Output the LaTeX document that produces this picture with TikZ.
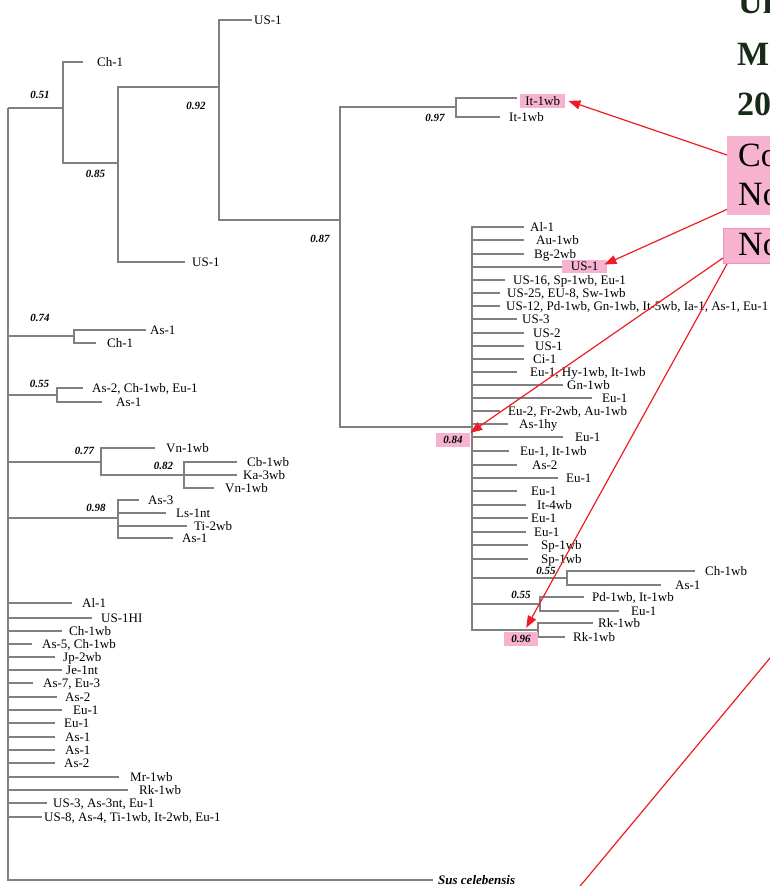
\documentclass[tikz,border=0pt]{standalone}
\usepackage{xcolor}
\usepackage{tikz}
\usetikzlibrary{arrows.meta}
\usepackage{fontspec}
\setmainfont{Liberation Serif}

\definecolor{gris}{RGB}{128,128,128}
\definecolor{rosa}{RGB}{246,178,206}
\definecolor{rosaborde}{RGB}{236,148,188}
\definecolor{rojo}{RGB}{240,28,36}
\definecolor{verdeosc}{RGB}{24,42,24}

\begin{document}
\begin{tikzpicture}[x=1pt,y=-1pt,
  rama/.style={draw=gris, line width=1.8pt},
  hoja/.style={anchor=base west, inner sep=0pt, yshift=-4.5pt, font=\fontsize{13}{13}\selectfont},
  apoyo/.style={inner sep=0pt, font=\fontsize{11}{11}\selectfont\bfseries\itshape},
  marca/.style={fill=rosa, inner sep=0pt, font=\fontsize{13}{13}\selectfont},
  caja/.style={fill=rosa, inner sep=0pt, anchor=north west},
  grande/.style={anchor=base west, inner sep=0pt, font=\fontsize{34}{34}\selectfont},
  titulo/.style={grande, text=verdeosc, font=\fontsize{34}{34}\selectfont\bfseries},
  flecha/.style={draw=rojo, line width=1.2pt, -{Triangle[length=12pt,width=9pt]}}]

% Marco de la figura
\useasboundingbox (0,0) rectangle (770,886);
\clip (0,0) rectangle (770,886);

% Nodos internos del arbol
\coordinate (raiz) at (8,108);
\coordinate (n51) at (63,108);
\coordinate (n85) at (118,163);
\coordinate (n92) at (219,87);
\coordinate (n87) at (340,220);
\coordinate (n97) at (456,107);
\coordinate (n84) at (472,427);
\coordinate (n55a) at (567,578);
\coordinate (n55b) at (540,604);
\coordinate (n96) at (538,630);
\coordinate (n74) at (74,336);
\coordinate (n55) at (57,395);
\coordinate (n77) at (101,462);
\coordinate (n82) at (184,475);
\coordinate (n98) at (118,518);
\coordinate (esus) at (433,880);

% Ramas entre nodos internos
\foreach \a/\b in {raiz/n51, n51/n85, n85/n92, n92/n87, n87/n97, n87/n84,
  n84/n55a, n84/n55b, n84/n96, raiz/n74, raiz/n55, raiz/n77, n77/n82,
  raiz/n98, raiz/esus}
  \draw[rama] (\a) |- (\b);

% Hojas: padre / y / fin de rama / x del texto / texto
\foreach \p/\y/\e/\l/\t [count=\i] in {
  n51/62/83/97/Ch-1, n92/20/252/254/US-1, n85/262/185/192/US-1,
  n97/117/500/509/It-1wb,
  n84/227/524/530/Al-1, n84/240/524/536/Au-1wb, n84/254/524/534/Bg-2wb,
  n84/280/505/513/{US-16, Sp-1wb, Eu-1},
  n84/293/500/507/{US-25, EU-8, Sw-1wb},
  n84/306/500/506/{US-12, Pd-1wb, Gn-1wb, It-5wb, Ia-1, As-1, Eu-1},
  n84/319/517/522/US-3, n84/333/524/533/US-2, n84/346/524/535/US-1,
  n84/359/524/533/Ci-1, n84/372/517/530/{Eu-1, Hy-1wb, It-1wb},
  n84/385/563/567/Gn-1wb, n84/398/592/602/Eu-1,
  n84/411/500/508/{Eu-2, Fr-2wb, Au-1wb}, n84/424/508/519/As-1hy,
  n84/437/563/575/Eu-1, n84/451/509/520/{Eu-1, It-1wb},
  n84/465/517/532/As-2, n84/478/558/566/Eu-1, n84/491/517/531/Eu-1,
  n84/505/526/537/It-4wb, n84/518/528/531/Eu-1, n84/532/526/534/Eu-1,
  n84/545/528/541/Sp-1wb, n84/559/528/541/Sp-1wb,
  n55a/571/695/705/Ch-1wb, n55a/585/661/675/As-1,
  n55b/597/584/592/{Pd-1wb, It-1wb}, n55b/611/619/631/Eu-1,
  n96/623/593/598/Rk-1wb, n96/637/565/573/Rk-1wb,
  n74/330/146/150/As-1, n74/343/96/107/Ch-1,
  n55/388/83/92/{As-2, Ch-1wb, Eu-1}, n55/402/102/116/As-1,
  n77/448/155/166/Vn-1wb,
  n82/462/237/247/Cb-1wb, n82/475/237/243/Ka-3wb, n82/488/214/225/Vn-1wb,
  n98/500/139/148/As-3, n98/513/166/176/Ls-1nt, n98/526/187/194/Ti-2wb,
  n98/538/173/182/As-1,
  raiz/603/72/82/Al-1, raiz/618/92/101/US-1HI, raiz/631/62/69/Ch-1wb,
  raiz/644/32/42/{As-5, Ch-1wb}, raiz/657/55/63/Jp-2wb, raiz/670/62/66/Je-1nt,
  raiz/683/33/43/{As-7, Eu-3}, raiz/697/57/65/As-2, raiz/710/62/73/Eu-1,
  raiz/723/55/64/Eu-1, raiz/737/55/65/As-1, raiz/750/55/65/As-1,
  raiz/763/55/64/As-2, raiz/777/119/130/Mr-1wb, raiz/790/128/139/Rk-1wb,
  raiz/803/47/53/{US-3, As-3nt, Eu-1},
  raiz/817/42/44/{US-8, As-4, Ti-1wb, It-2wb, Eu-1}}
{
  \coordinate (e\i) at (\e,\y);
  \draw[rama] (\p) |- (e\i);
  \node[hoja] (t\i) at (\l,\y) {\t};
}

% Hojas marcadas
\coordinate (eIt) at (517,98);
\draw[rama] (n97) |- (eIt);
\node[marca, anchor=north west, minimum width=45, minimum height=13.5] (mIt) at (520,94) {It-1wb};
\coordinate (eUS) at (567,267);
\draw[rama] (n84) |- (eUS);
\node[marca, anchor=west, minimum width=45, minimum height=13] (mUS) at (562,266.5) {US-1};

% Grupo externo
\node[hoja, font=\fontsize{13}{13}\selectfont\bfseries\itshape] (tsus) at (438,880) {Sus celebensis};

% Valores de apoyo
\node[apoyo] (s51) at (40,95) {0.51};
\node[apoyo] (s85) at (95.5,174) {0.85};
\node[apoyo] (s92) at (196,106) {0.92};
\node[apoyo] (s87) at (320,239) {0.87};
\node[apoyo] (s97) at (435,118) {0.97};
\node[apoyo, fill=rosa, minimum width=34, minimum height=14] (s84) at (453,440) {0.84};
\node[apoyo] (s74) at (40,318) {0.74};
\node[apoyo] (s55) at (39.5,384) {0.55};
\node[apoyo] (s77) at (84.5,451) {0.77};
\node[apoyo] (s82) at (163.5,466) {0.82};
\node[apoyo] (s98) at (96,508) {0.98};
\node[apoyo] (s55a) at (546,571) {0.55};
\node[apoyo] (s55b) at (521,595) {0.55};
\node[apoyo, fill=rosa, minimum width=34, minimum height=14] (s96) at (521,639) {0.96};

% Texto de la derecha (cortado por el borde)
\node[titulo] (g1) at (738,13) {Un};
\node[titulo] (g2) at (737,65) {M};
\node[titulo] (g3) at (737,115) {20};
\node[caja, minimum width=60, minimum height=79] (c1) at (727,136) {};
\node[grande] (c1a) at (738,166) {Co};
\node[grande] (c1b) at (738,205) {No};
\node[caja, draw=rosaborde, line width=1pt, minimum width=60, minimum height=35] (c2) at (723,228) {};
\node[grande] (c2a) at (738,255) {No};

% Flechas
\draw[flecha] ([yshift=-19pt]c1.north west) -- ([xshift=3pt]mIt.east);
\draw[flecha] ([yshift=6pt]c1.south west) -- ([xshift=-3pt,yshift=2pt]mUS.east);
\draw[flecha] ([yshift=6pt]c2.south west) -- (s84.north east);
\draw[flecha] ([xshift=4pt]c2.south west) -- ([xshift=-12pt,yshift=4pt]s96.north east);
\coordinate (r1) at (785,640);
\coordinate (r2) at (576,891);
\draw[draw=rojo, line width=1.2pt] (r1) -- (r2);

\end{tikzpicture}
\end{document}
